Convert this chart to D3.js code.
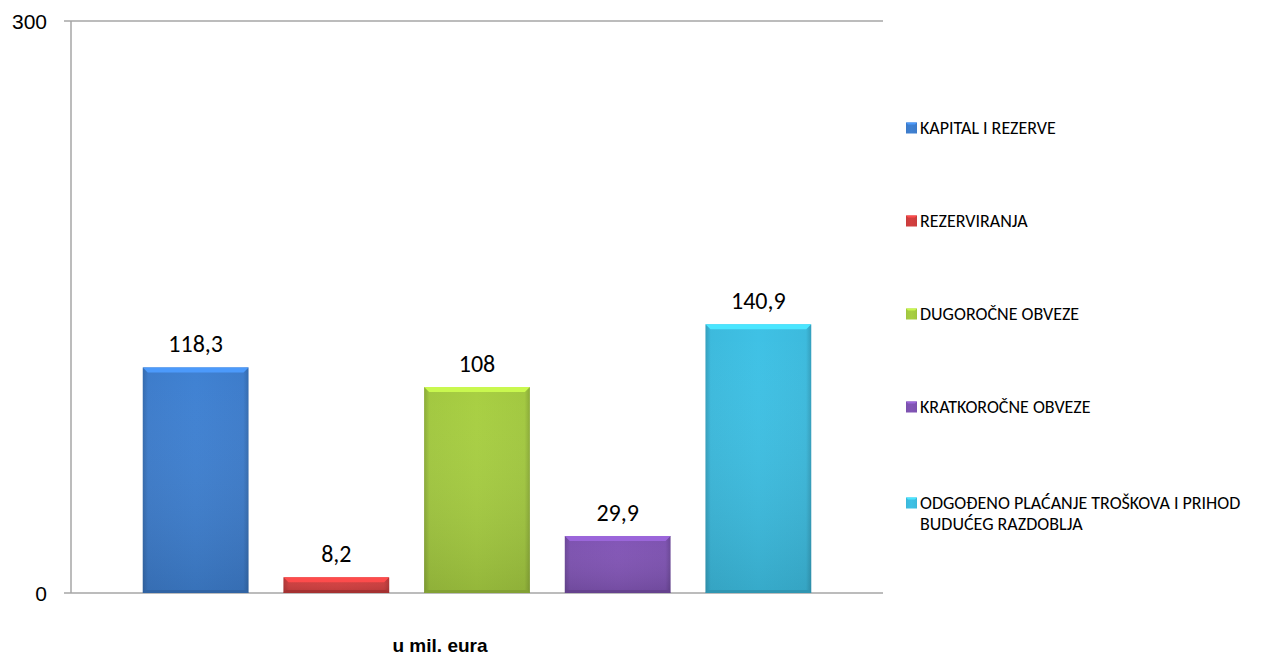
<!DOCTYPE html>
<html><head><meta charset="utf-8">
<script src="https://cdn.jsdelivr.net/npm/d3@7"></script>
<style>body{margin:0;background:#fff}svg{display:block}</style>
</head><body>
<script>
const category = ["u mil. eura"];
const seriesNames = ["KAPITAL I REZERVE","REZERVIRANJA","DUGOROČNE OBVEZE","KRATKOROČNE OBVEZE","ODGOĐENO PLAĆANJE TROŠKOVA I PRIHOD BUDUĆEG RAZDOBLJA"];
const legendLines = [["KAPITAL I REZERVE"],["REZERVIRANJA"],["DUGOROČNE OBVEZE"],["KRATKOROČNE OBVEZE"],["ODGOĐENO PLAĆANJE TROŠKOVA I PRIHOD","BUDUĆEG RAZDOBLJA"]];
const values = [118.3, 8.2, 108, 29.9, 140.9];
const valueLabels = ["118,3","8,2","108","29,9","140,9"];
const yTicks = [0, 300];
const colors = ["#3d7ccb","#cc3d3d","#a2c840","#7d52b0","#3cbadd"];

const W = 1274, H = 657;
const svg = d3.select("body").append("svg").attr("width", W).attr("height", H);
const defs = svg.append("defs");

const y = d3.scaleLinear().domain([0, 300]).range([593, 21]);
const x0 = d3.scaleBand().domain(category).range([71, 883]);
const x1 = d3.scaleBand().domain(seriesNames).range([x0(category[0]), x0(category[0]) + x0.bandwidth()])
  .paddingInner(0.248).paddingOuter(0.51);

const gridColor = "#a6a6a6";
svg.append("g").selectAll("line").data(yTicks).join("line")
  .attr("x1", 64).attr("x2", 883)
  .attr("y1", d => y(d)).attr("y2", d => y(d))
  .attr("stroke", gridColor).attr("stroke-width", 1.5);
svg.append("line").attr("x1", 71).attr("x2", 71).attr("y1", y(300)).attr("y2", y(0))
  .attr("stroke", gridColor).attr("stroke-width", 1.5);

svg.append("g").selectAll("text").data(yTicks).join("text")
  .attr("x", 47).attr("y", d => y(d)).attr("dy", "0.36em")
  .attr("text-anchor", "end")
  .attr("font-family", "Liberation Sans, Arial, sans-serif").attr("font-size", 21)
  .attr("fill", "#000").text(d => d);

colors.forEach((c, i) => {
  const g = defs.append("linearGradient").attr("id", "hg" + i).attr("x1", 0).attr("x2", 1).attr("y1", 0).attr("y2", 0);
  const dk = d3.color(c).darker(0.45), lt = d3.color(c).brighter(0.1);
  g.append("stop").attr("offset", 0).attr("stop-color", dk);
  g.append("stop").attr("offset", 0.05).attr("stop-color", c);
  g.append("stop").attr("offset", 0.5).attr("stop-color", lt);
  g.append("stop").attr("offset", 0.95).attr("stop-color", c);
  g.append("stop").attr("offset", 1).attr("stop-color", dk);
  const v = defs.append("linearGradient").attr("id", "vg" + i).attr("x1", 0).attr("x2", 0).attr("y1", 0).attr("y2", 1);
  v.append("stop").attr("offset", 0).attr("stop-color", "#fff").attr("stop-opacity", 0.0);
  v.append("stop").attr("offset", 1).attr("stop-color", "#000").attr("stop-opacity", 0.12);
});

const bars = svg.append("g").selectAll("g").data(values).join("g");
const bw = x1.bandwidth();
bars.append("rect")
  .attr("x", (d, i) => x1(seriesNames[i])).attr("y", d => y(d))
  .attr("width", bw).attr("height", d => y(0) - y(d))
  .attr("fill", (d, i) => `url(#hg${i})`);
bars.append("rect")
  .attr("x", (d, i) => x1(seriesNames[i])).attr("y", d => y(d))
  .attr("width", bw).attr("height", d => y(0) - y(d))
  .attr("fill", (d, i) => `url(#vg${i})`);
const bv = 5;
bars.append("path")
  .attr("d", (d, i) => {
    const xl = x1(seriesNames[i]), xr = xl + bw, yt = y(d);
    return `M${xl},${yt}L${xr},${yt}L${xr - bv},${yt + bv}L${xl + bv},${yt + bv}Z`;
  })
  .attr("fill", (d, i) => d3.color(colors[i]).brighter(0.6));
bars.append("path")
  .attr("d", (d, i) => {
    const xl = x1(seriesNames[i]), xr = xl + bw, yb = y(0);
    return `M${xl},${yb}L${xr},${yb}L${xr - 3},${yb - 3}L${xl + 3},${yb - 3}Z`;
  })
  .attr("fill", (d, i) => d3.color(colors[i]).darker(0.6));

svg.append("g").selectAll("text").data(values).join("text")
  .attr("x", (d, i) => x1(seriesNames[i]) + bw / 2)
  .attr("y", d => y(d) - 15)
  .attr("text-anchor", "middle")
  .attr("font-family", "Carlito, Calibri, Lato, sans-serif").attr("font-size", 24)
  .attr("fill", "#000").text((d, i) => valueLabels[i]);

svg.append("text").attr("x", 440).attr("y", 652).attr("text-anchor", "middle")
  .attr("font-family", "Liberation Sans, Arial, sans-serif").attr("font-size", 19).attr("font-weight", "bold")
  .text(category[0]);

const legY = [128, 221, 314, 407, 503];
const leg = svg.append("g").selectAll("g").data(seriesNames).join("g")
  .attr("transform", (d, i) => `translate(906,${legY[i]})`);
leg.append("rect").attr("x", 0).attr("y", -5.5).attr("width", 11).attr("height", 11)
  .attr("fill", (d, i) => `url(#hg${i})`);
leg.append("path").attr("d", "M0,-5.5L11,-5.5L9,-3.5L2,-3.5Z").attr("fill", (d, i) => d3.color(colors[i]).brighter(0.6));
leg.append("text").attr("x", 14).attr("y", 0)
  .attr("font-family", "Carlito, Calibri, Lato, sans-serif").attr("font-size", 18)
  .attr("fill", "#000")
  .selectAll("tspan").data((d, i) => legendLines[i]).join("tspan")
  .attr("x", 14).attr("dy", (d, j) => j === 0 ? "0.36em" : "1.15em").text(d => d);
</script>
</body></html>
